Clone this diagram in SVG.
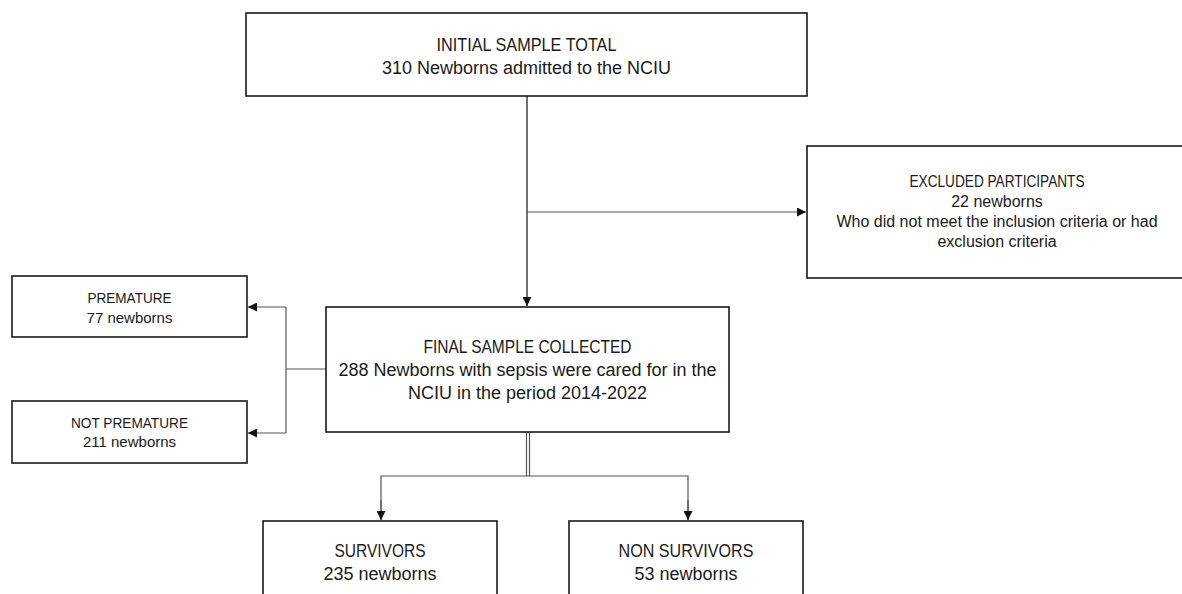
<svg xmlns="http://www.w3.org/2000/svg" width="1182" height="594" viewBox="0 0 1182 594">
<style>
.box{fill:#fff;stroke:#1a1a1a;stroke-width:1.6}
.t{font-family:"Liberation Sans",Arial,sans-serif;fill:#1a1a1a;text-anchor:middle}
.big{font-size:18px}
.mid{font-size:16px}
.sm{font-size:15px}
.c{fill:none;stroke:#555;stroke-width:1.2}
.k{fill:none;stroke:#111;stroke-width:1.2}
</style>
<defs>
<marker id="ah" viewBox="0 0 10 10" refX="10" refY="5" markerWidth="9" markerHeight="9" markerUnits="userSpaceOnUse" orient="auto">
<path d="M0,0 L10,5 L0,10 Z" fill="#111"/>
</marker>
</defs>
<rect width="1182" height="594" fill="#fff"/>
<g id="connectors">
<line class="k" x1="527" y1="96" x2="527" y2="306" marker-end="url(#ah)"/>
<line class="c" x1="527" y1="212" x2="806" y2="212" marker-end="url(#ah)"/>
<polyline class="c" points="326,369 286,369"/>
<polyline class="c" points="286,307 286,433"/>
<line class="c" x1="286" y1="307" x2="248" y2="307" marker-end="url(#ah)"/>
<line class="c" x1="286" y1="433" x2="248" y2="433" marker-end="url(#ah)"/>
<line class="c" x1="526.5" y1="432" x2="526.5" y2="476"/>
<line class="c" x1="529.5" y1="432" x2="529.5" y2="476"/>
<polyline class="c" points="381,520 381,476 688,476 688,520"/>
<line class="c" x1="381" y1="500" x2="381" y2="520" marker-end="url(#ah)"/>
<line class="c" x1="688" y1="500" x2="688" y2="520" marker-end="url(#ah)"/>
</g>
<g id="initial">
<rect class="box" x="246" y="13" width="561" height="83"/>
<text class="t big" x="526.5" y="51" textLength="180" lengthAdjust="spacingAndGlyphs">INITIAL SAMPLE TOTAL</text>
<text class="t big" x="526.5" y="74">310 Newborns admitted to the NCIU</text>
</g>
<g id="excluded">
<rect class="box" x="807" y="146" width="390" height="132"/>
<text class="t mid" x="997" y="187" textLength="175" lengthAdjust="spacingAndGlyphs">EXCLUDED PARTICIPANTS</text>
<text class="t mid" x="997" y="207">22 newborns</text>
<text class="t mid" x="997" y="227">Who did not meet the inclusion criteria or had</text>
<text class="t mid" x="997" y="247">exclusion criteria</text>
</g>
<g id="final">
<rect class="box" x="326" y="307" width="403" height="125"/>
<text class="t big" x="527.5" y="353" textLength="208" lengthAdjust="spacingAndGlyphs">FINAL SAMPLE COLLECTED</text>
<text class="t big" x="527.5" y="376">288 Newborns with sepsis were cared for in the</text>
<text class="t big" x="527.5" y="399">NCIU in the period 2014-2022</text>
</g>
<g id="premature">
<rect class="box" x="12" y="276" width="235" height="61"/>
<text class="t sm" x="129.5" y="303" textLength="84" lengthAdjust="spacingAndGlyphs">PREMATURE</text>
<text class="t sm" x="129.5" y="323">77 newborns</text>
</g>
<g id="not-premature">
<rect class="box" x="12" y="401" width="235" height="62"/>
<text class="t sm" x="129.5" y="428" textLength="117" lengthAdjust="spacingAndGlyphs">NOT PREMATURE</text>
<text class="t sm" x="129.5" y="447">211 newborns</text>
</g>
<g id="survivors">
<rect class="box" x="263" y="521" width="234" height="90"/>
<text class="t big" x="380" y="557" textLength="91" lengthAdjust="spacingAndGlyphs">SURVIVORS</text>
<text class="t big" x="380" y="580">235 newborns</text>
</g>
<g id="non-survivors">
<rect class="box" x="569" y="521" width="234" height="90"/>
<text class="t big" x="686" y="557" textLength="135" lengthAdjust="spacingAndGlyphs">NON SURVIVORS</text>
<text class="t big" x="686" y="580">53 newborns</text>
</g>
</svg>
